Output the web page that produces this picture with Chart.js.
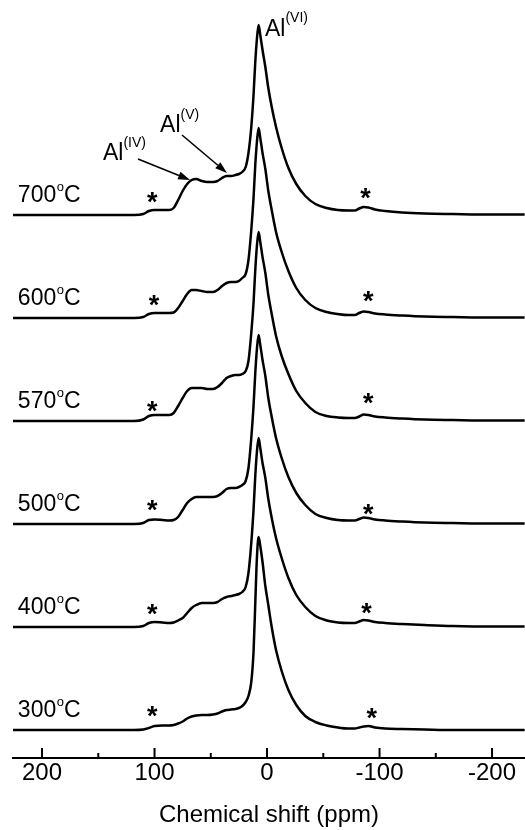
<!DOCTYPE html>
<html><head><meta charset="utf-8">
<script src="https://cdn.jsdelivr.net/npm/chart.js@4.4.1/dist/chart.umd.min.js"></script>
<style>html,body{margin:0;padding:0;background:#fff;}#wrap{width:525px;height:830px;}</style>
</head><body><div id="wrap"><canvas id="c" width="525" height="830"></canvas></div>
<script>
// Chemical shift grid (ppm)
const ppm = [226, 180, 140, 118, 110, 105, 100, 93, 87, 83, 79, 75, 71, 67, 63, 58, 53, 48, 44, 40, 36, 32, 28, 25, 22,
             19, 16.5, 14, 12, 10.5, 9, 7.5, 6, 4, 1.5, -1, -4, -8, -13, -19, -26, -34, -43, -53, -63, -72, -78, -82, -86, -90, -96, -105, -120, -140, -165, -200, -229];
// Intensities (relative to each spectrum's own baseline)
const int700 = [0,0,0,0,1,4,5,5,5,7,15,24,31,35,36,34,33,33,34,37,39,39,40,41,43,
                48,62,88,120,152,176,190,180,165,148,128,109,88,67,47,31,19,11,7,5,4.5,4.5,6.5,8,7.5,5.5,4,2.5,1.5,1,0.5,0.5];
const int600 = [0,0,0,0,1,4,5,5,5,5.5,10,17,24,28,28,27,26,26,28,32,35,36,36,37,40,
                44,58,88,120,152,176,190,180,165,149,128,109,86,66,47,30,18,10,6,4,3,3,5,6.5,6,4.5,3.5,2.5,1.5,1,0.5,0.5];
const int570 = [0,0,0,0,1.5,5,6,6,6,8,15,23,30,33,33,33,32,32,34,38,43,45,46,46,47,
                50,60,88,118,150,175,189,179,164,148,127,108,85,65,47,30,18,9,5,3.5,3,3,4.5,6.5,6,4.5,3.5,2.5,1.5,1,0.5,0.5];
const int500 = [0,0,0,0,1,4,4.5,4,3.5,4,7,14,21,25,27,27,27,27,28,31,35,36,36,37,39,
                43,56,86,118,150,175,189,179,164,148,127,108,86,66,47,31,19,10,6,4,3.5,3.5,5,6.5,6,4.5,3.5,2.5,1.5,1,0.5,0.5];
const int400 = [0,0,0,0,1,4,5,4.5,4,4.5,6.5,9,14,19,22,24,24,24,25,28,30,31,32,33,35,
                40,54,84,117,150,175,189,179,164,149,129,110,89,69,49,32,20,11,6.5,4.5,4,4,5.5,7,6.5,5,4,3,2,1,0.5,0.5];
const int300 = [0,0,0,0,0.5,2,4,4.5,4.5,5,6.5,8.5,11.5,13.5,14.5,15,15,15.5,16.5,18.5,20,20.5,21,22,24,
                28,34,48,78,125,172,193,184,168,144,126,104,80,59,40,25,14,8,4.5,2.5,1.5,1.5,2.5,3.5,4,2.5,1.5,1,0.5,0,0,0];
const temperatures = ['700','600','570','500','400','300'];
const xTickValues = [200,150,100,50,0,-50,-100,-150,-200];
const xTickLabels = ['200','','100','','0','','-100','','-200'];
const xTitle = 'Chemical shift (ppm)';
const siteLabels = [['Al','(VI)'],['Al','(V)'],['Al','(IV)']];

const STEP = 103;
const series = [int700,int600,int570,int500,int400,int300];
const FONT = '"Liberation Sans", Arial, sans-serif';

const datasets = series.map((arr,i)=>({
  label: temperatures[i],
  data: ppm.map((p,j)=>({x:p, y:arr[j] + (series.length-1-i)*STEP})),
  borderColor:'#000', borderWidth:2.5, pointRadius:0, fill:false,
  cubicInterpolationMode:'monotone'
}));

function baseOf(i){ return (series.length-1-i)*STEP; }

const decor = {
  id:'decor',
  afterDraw(chart){
    const ctx = chart.ctx, xs = chart.scales.x, ys = chart.scales.y;
    const X = v=>xs.getPixelForValue(v), Y = v=>ys.getPixelForValue(v);
    ctx.save();
    // inward ticks
    const yb = chart.chartArea.bottom;
    ctx.strokeStyle='#000'; ctx.lineWidth=2;
    xTickValues.forEach(v=>{
      const px = X(v), len = (v%100===0)?10:5;
      ctx.beginPath(); ctx.moveTo(px,yb); ctx.lineTo(px,yb-len); ctx.stroke();
    });
    ctx.fillStyle='#000';
    ctx.textBaseline='alphabetic'; ctx.textAlign='left';
    // temperature labels
    temperatures.forEach((t,i)=>{
      let px = X(221.5); const py = Y(baseOf(i)+13);
      ctx.font = '23px '+FONT; ctx.fillText(t, px, py); px += ctx.measureText(t).width;
      ctx.font = '13px '+FONT; ctx.fillText('o', px+0.5, py-11); px += ctx.measureText('o').width+0.5;
      ctx.font = '23px '+FONT; ctx.fillText('C', px, py);
    });
    // spinning sideband stars
    const starL = [[102,18],[100.5,18],[102,14.5],[102,19],[102,17.5],[102,19]];
    const starR = [[-87.5,21.5],[-90,21.5],[-90,22.5],[-90,14.5],[-88.5,19],[-93,17]];
    ctx.font = 'bold 27px '+FONT; ctx.textAlign='center';
    const m = ctx.measureText('*');
    const off = (m.actualBoundingBoxAscent - m.actualBoundingBoxDescent)/2;
    temperatures.forEach((t,i)=>{
      [starL[i],starR[i]].forEach(s=>{ ctx.fillText('*', X(s[0]), Y(baseOf(i)+s[1]) + off); });
    });
    // site labels
    ctx.textAlign='left';
    const sitePos = [[1.8,694,14],[95.1,598,13],[145.8,570,13]];
    siteLabels.forEach((s,k)=>{
      let px = X(sitePos[k][0]); const py = Y(sitePos[k][1]);
      ctx.font = '23px '+FONT; ctx.fillText(s[0], px, py); px += ctx.measureText(s[0]).width;
      ctx.font = '14px '+FONT; ctx.fillText(s[1], px, py - sitePos[k][2]);
    });
    // arrows
    const arrows = [[114.7,571,68.4,550],[75.6,595,35.6,557]];
    arrows.forEach(a=>{
      const x1=X(a[0]), y1=Y(a[1]), x2=X(a[2]), y2=Y(a[3]);
      const ang = Math.atan2(y2-y1,x2-x1), L=12, W=4;
      const bx = x2 - L*Math.cos(ang), by = y2 - L*Math.sin(ang);
      ctx.lineWidth=1.6; ctx.beginPath(); ctx.moveTo(x1,y1); ctx.lineTo(bx,by); ctx.stroke();
      ctx.beginPath(); ctx.moveTo(x2,y2);
      ctx.lineTo(bx + W*Math.sin(ang), by - W*Math.cos(ang));
      ctx.lineTo(bx - W*Math.sin(ang), by + W*Math.cos(ang));
      ctx.closePath(); ctx.fill();
    });
    ctx.restore();
  }
};

new Chart(document.getElementById('c'), {
  type:'line',
  data:{datasets},
  options:{
    responsive:false, animation:false,
    layout:{padding:{left:13,right:0,top:0,bottom:0}},
    plugins:{legend:{display:false}, tooltip:{enabled:false}},
    scales:{
      x:{type:'linear', reverse:true, min:-229.3, max:225.8,
         afterBuildTicks:(s)=>{ s.ticks = xTickValues.map(v=>({value:v})); },
         afterFit:(s)=>{ s.height = 72; },
         grid:{display:false, drawTicks:false},
         border:{display:true, color:'#000', width:2},
         ticks:{autoSkip:false, maxRotation:0, padding:1, color:'#000',
                font:{family:FONT, size:24},
                callback:(v,idx)=>xTickLabels[idx]},
         title:{display:true, text:xTitle, color:'#000', font:{family:FONT, size:24}, padding:{top:0,bottom:0}}
      },
      y:{display:false, min:-28, max:730}
    }
  },
  plugins:[decor]
});
</script></body></html>
